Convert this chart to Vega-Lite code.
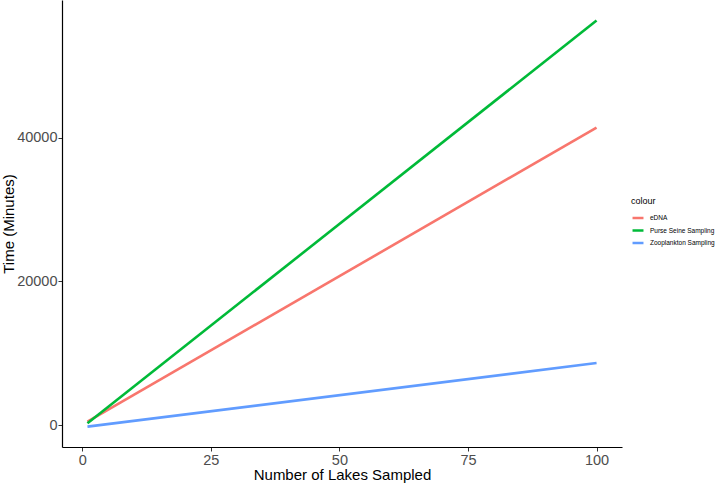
{
  "$schema": "https://vega.github.io/schema/vega-lite/v6.json",
  "width": 560,
  "height": 447,
  "autosize": {"type": "none"},
  "padding": {"left": 62, "top": 0, "right": 98, "bottom": 36},
  "background": "white",
  "config": {
    "view": {"stroke": null},
    "font": "Liberation Sans"
  },
  "data": {
    "values": [
      {"lakes": 1, "minutes": 460, "colour": "eDNA"},
      {"lakes": 100, "minutes": 41400, "colour": "eDNA"},
      {"lakes": 1, "minutes": 240, "colour": "Purse Seine Sampling"},
      {"lakes": 100, "minutes": 56300, "colour": "Purse Seine Sampling"},
      {"lakes": 1, "minutes": -230, "colour": "Zooplankton Sampling"},
      {"lakes": 100, "minutes": 8630, "colour": "Zooplankton Sampling"}
    ]
  },
  "mark": {"type": "line", "strokeWidth": 2.6, "clip": true},
  "encoding": {
    "x": {
      "field": "lakes",
      "type": "quantitative",
      "scale": {"domain": [-3.95, 104.95], "nice": false, "zero": false},
      "axis": {
        "title": "Number of Lakes Sampled",
        "values": [0, 25, 50, 75, 100],
        "grid": false,
        "domainColor": "black",
        "domainWidth": 1.2,
        "tickColor": "#333333",
        "tickSize": 4,
        "labelFontSize": 14.5,
        "labelColor": "#4D4D4D",
        "labelPadding": 2,
        "titleFontSize": 15,
        "titleFontWeight": "normal",
        "titleColor": "black",
        "titlePadding": 1
      }
    },
    "y": {
      "field": "minutes",
      "type": "quantitative",
      "scale": {"domain": [-3062, 59160], "nice": false, "zero": false},
      "axis": {
        "title": "Time (Minutes)",
        "values": [0, 20000, 40000],
        "format": "d",
        "grid": false,
        "domainColor": "black",
        "domainWidth": 1.2,
        "tickColor": "#333333",
        "tickSize": 4,
        "labelFontSize": 14.5,
        "labelColor": "#4D4D4D",
        "labelPadding": 1,
        "titleFontSize": 15,
        "titleFontWeight": "normal",
        "titleColor": "black",
        "titlePadding": 0
      }
    },
    "color": {
      "field": "colour",
      "type": "nominal",
      "scale": {
        "domain": ["eDNA", "Purse Seine Sampling", "Zooplankton Sampling"],
        "range": ["#F8766D", "#00BA38", "#619CFF"]
      },
      "legend": {
        "title": "colour",
        "orient": "none",
        "legendX": 569,
        "legendY": 197,
        "titleFontSize": 9,
        "titleFontWeight": "normal",
        "titleColor": "black",
        "titlePadding": 5,
        "labelFontSize": 6.5,
        "labelColor": "black",
        "labelLimit": 200,
        "symbolType": "stroke",
        "symbolSize": 120,
        "symbolStrokeWidth": 2.5,
        "rowPadding": 0.5,
        "labelOffset": 5
      }
    }
  }
}
